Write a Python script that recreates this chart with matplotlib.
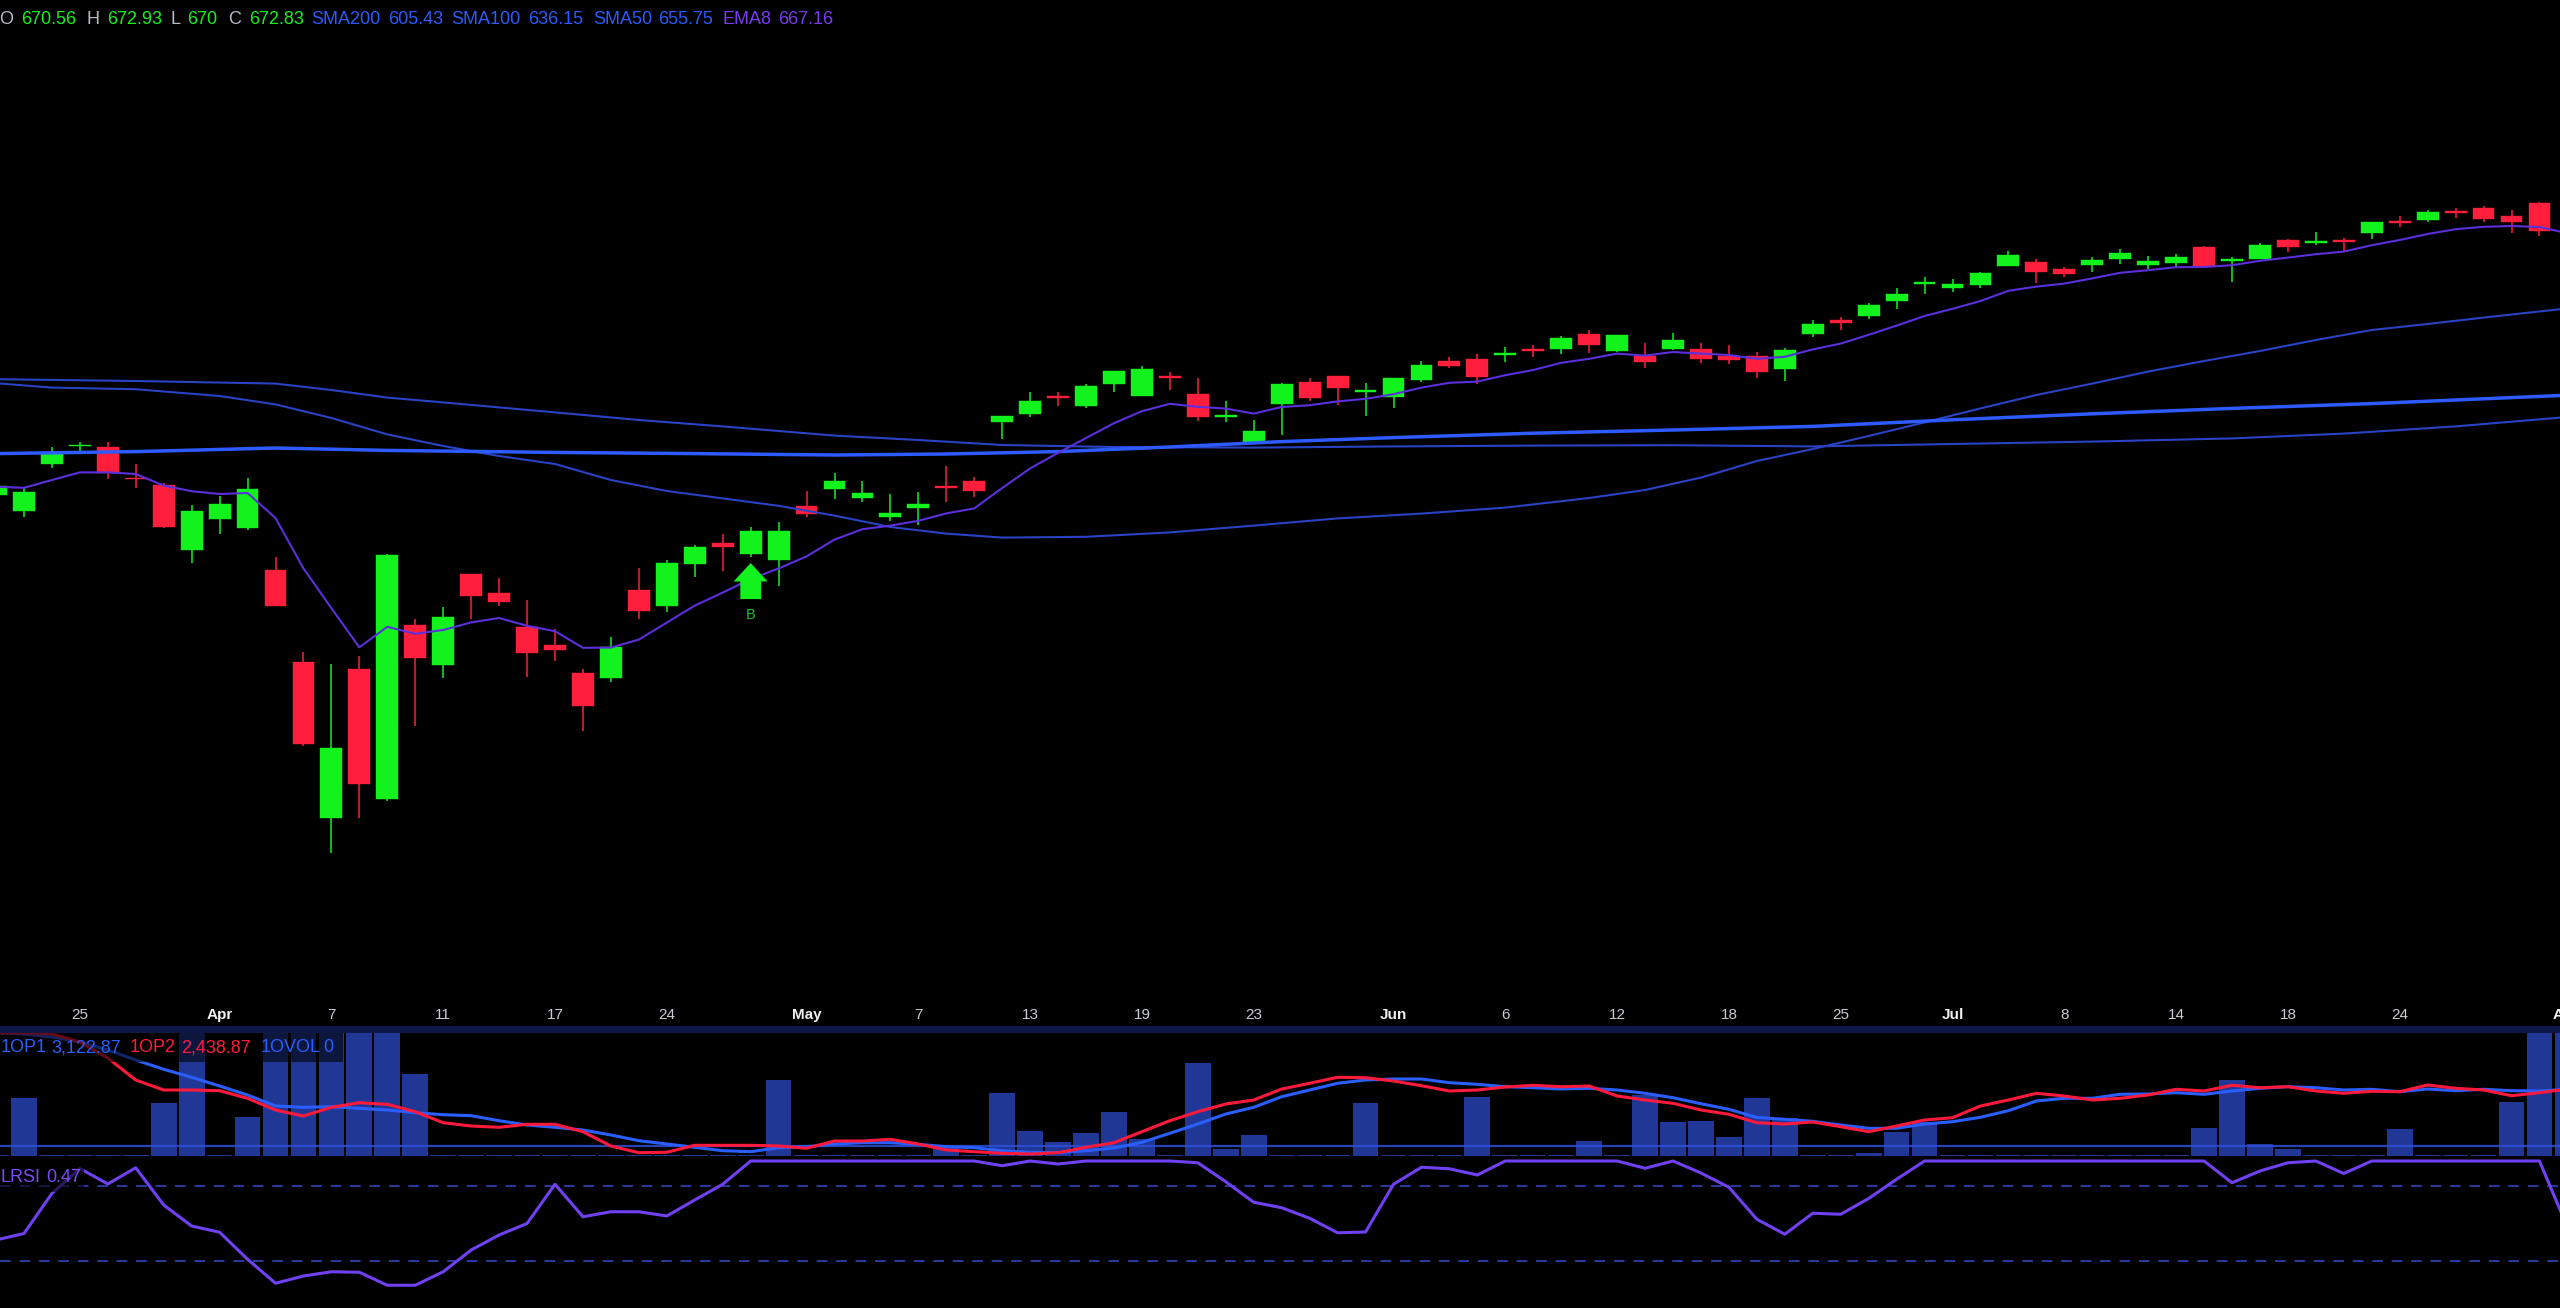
import numpy as np
import matplotlib
matplotlib.use("Agg")
import matplotlib.pyplot as plt
from matplotlib.patches import Rectangle

plt.rcParams['font.family'] = ['Liberation Sans', 'DejaVu Sans']

W, H = 2560, 1308

# ---- daily candles, Mar 20 .. Jul 31 ----
opens = [566.25, 562.25, 573.93, 578.38, 578.33, 570.5, 568.75, 552.5, 560.25, 557.93,
         547.58, 524.5, 485.43, 522.68, 490.25, 533.83, 523.75, 546.5, 541.83, 533.18,
         528.75, 521.83, 520.58, 542.58, 538.5, 549.08, 554.18, 551.43, 550.0, 563.43,
         567.68, 565.58, 560.83, 563.08, 568.5, 569.68, 584.43, 586.43, 590.83, 588.43,
         594.08, 591.0, 595.93, 591.43, 585.68, 579.18, 588.93, 594.43, 595.93, 591.93,
         590.68, 595.0, 599.68, 600.25, 601.18, 602.58, 602.75, 606.5, 602.33, 601.0,
         602.83, 602.75, 601.08, 601.08, 597.75, 606.58, 609.93, 611.08, 614.68, 618.93,
         617.93, 618.68, 623.5, 624.43, 622.68, 623.83, 625.18, 623.83, 624.18, 628.25,
         624.75, 625.25, 629.93, 629.18, 629.83, 631.83, 634.75, 635.08, 637.25, 638.0,
         636.0, 639.18]
highs = [569.5, 568.0, 578.33, 579.58, 579.5, 574.0, 569.33, 563.75, 566.0, 570.58,
         550.68, 526.93, 524.0, 526.0, 551.4, 535.25, 538.33, 546.6, 545.5, 540.0,
         532.68, 522.75, 530.68, 548.0, 549.93, 553.83, 556.43, 558.33, 559.5, 567.18,
         571.68, 569.83, 566.5, 566.93, 573.58, 570.68, 586.1, 592.08, 591.93, 593.93,
         597.18, 598.5, 596.93, 595.43, 589.75, 585.0, 594.18, 595.43, 596.0, 594.18,
         595.6, 599.83, 600.68, 601.5, 603.33, 603.83, 605.93, 607.43, 606.18, 604.33,
         606.83, 604.33, 603.75, 602.0, 603.08, 610.0, 610.83, 614.25, 618.08, 620.75,
         620.25, 622.0, 627.25, 625.18, 623.33, 625.75, 627.68, 625.93, 626.43, 628.58,
         625.83, 629.25, 630.18, 632.0, 630.5, 634.43, 636.0, 637.43, 637.93, 638.5,
         637.58, 639.5]
lows = [565.5, 560.75, 573.08, 577.08, 570.25, 567.93, 557.93, 549.18, 556.43, 557.5,
        538.4, 503.5, 476.68, 485.43, 489.75, 508.5, 520.43, 535.25, 538.58, 520.68,
        524.75, 507.33, 519.43, 535.25, 537.08, 545.83, 547.25, 550.83, 543.58, 560.68,
        565.33, 564.5, 559.75, 558.75, 564.58, 565.83, 580.18, 585.83, 588.5, 587.93,
        592.08, 590.9, 592.5, 584.68, 584.43, 579.1, 581.25, 589.83, 588.75, 586.08,
        587.93, 594.43, 598.08, 593.93, 599.43, 600.83, 601.58, 601.68, 602.08, 598.08,
        602.5, 599.18, 599.0, 595.58, 594.75, 605.68, 607.5, 610.33, 612.68, 616.58,
        617.08, 618.08, 623.4, 619.33, 620.75, 622.08, 624.0, 622.68, 622.93, 623.18,
        619.43, 625.2, 627.08, 628.83, 627.0, 630.18, 633.18, 634.58, 635.43, 634.43,
        631.83, 631.08]
closes = [568.5, 567.08, 576.83, 578.63, 571.83, 570.13, 558.33, 562.33, 564.08, 567.68,
          538.5, 504.0, 503.0, 493.93, 551.25, 525.43, 535.68, 541.08, 539.43, 526.68,
          527.5, 513.5, 528.33, 537.18, 549.18, 553.33, 553.33, 557.18, 557.33, 561.43,
          569.83, 566.68, 561.83, 564.0, 568.0, 567.33, 586.0, 589.83, 590.43, 593.43,
          597.18, 597.75, 595.5, 585.83, 586.18, 582.33, 594.0, 590.43, 592.93, 592.5,
          595.58, 598.75, 598.5, 595.83, 601.68, 602.18, 605.5, 603.83, 606.18, 599.5,
          605.08, 600.18, 600.0, 596.93, 602.58, 609.08, 609.33, 613.83, 616.58, 619.33,
          619.08, 621.68, 626.33, 621.93, 621.58, 625.08, 626.68, 624.75, 625.83, 623.43,
          625.33, 628.75, 628.18, 629.5, 629.43, 634.43, 634.33, 636.93, 636.83, 635.25,
          634.43, 632.33]

# EMA8 per bar (last value belongs to the partly hidden Aug 1 bar)
ema8 = [568.3, 568.05, 570.0, 571.9, 571.9, 571.5, 568.6, 567.2, 566.5, 566.75,
        560.5, 547.9, 537.95, 528.18, 533.3, 531.55, 532.5, 534.4, 535.5, 533.55,
        532.2, 528.05, 528.1, 530.1, 534.35, 538.6, 541.85, 545.25, 547.9, 550.9,
        555.1, 557.7, 558.6, 559.8, 561.65, 562.9, 568.0, 572.9, 576.8, 580.5,
        584.2, 587.2, 589.05, 588.3, 587.85, 586.6, 588.25, 588.7, 589.65, 590.3,
        591.45, 593.1, 594.3, 594.6, 596.2, 597.5, 599.3, 600.3, 601.6, 601.1,
        602.0, 601.6, 601.25, 600.3, 600.8, 602.65, 604.1, 606.3, 608.6, 611.0,
        612.8, 614.75, 617.3, 618.35, 619.1, 620.4, 621.8, 622.45, 623.2, 623.25,
        623.7, 624.8, 625.6, 626.45, 627.1, 628.7, 630.0, 631.5, 632.7, 633.3,
        633.5, 633.25, 631.7]

# slow moving averages, read at selected bars
sma200_idx = [0, 5, 10, 14, 20, 25, 30, 34, 38, 42, 46, 50, 55, 60, 65, 70, 75, 80, 85, 90, 92]
sma200 = [576.6, 577.1, 578.0, 577.4, 576.9, 576.6, 576.25, 576.5, 577.1, 578.25, 579.6,
          580.6, 581.7, 582.5, 583.4, 585.05, 586.55, 587.9, 589.1, 590.6, 591.2]
sma100_idx = [0, 5, 10, 12, 14, 16, 20, 23, 26, 30, 33, 36, 40, 45, 50, 55, 60, 65, 70, 75, 80, 84, 88, 92]
sma100 = [595.2, 594.75, 594.1, 592.5, 590.6, 589.4, 586.9, 585.0, 583.4, 581.1, 580.0, 578.75,
          578.25, 578.1, 578.4, 578.6, 578.7, 578.4, 579.0, 579.6, 580.4, 581.6, 583.4, 585.75]
sma50_idx = [0, 2, 5, 8, 10, 12, 14, 16, 18, 20, 22, 24, 26, 28, 30, 32, 34, 36, 39, 42, 45, 48,
             51, 54, 57, 59, 61, 63, 65, 67, 69, 71, 73, 75, 77, 79, 81, 83, 85, 87, 89, 92]
sma50 = [594.2, 593.1, 592.7, 591.0, 588.9, 585.5, 581.4, 578.5, 576.0, 574.0, 570.0, 567.25,
         565.4, 563.55, 561.1, 558.25, 556.6, 555.6, 555.8, 556.9, 558.6, 560.4, 561.6, 563.1,
         565.5, 567.5, 570.6, 574.75, 577.75, 581.0, 584.4, 587.9, 591.25, 594.1, 597.1, 599.75,
         602.25, 605.0, 607.5, 609.0, 610.6, 612.9]

buy_idx = [27]

# lower panes (93 bars incl. Aug 1)
ovol = [1.5, 58.3, 1.5, 1.5, 1.5, 1.5, 53.3, 140, 1.5, 38.7,
        140, 140, 140, 140, 140, 82.0, 1.5, 1.5, 1.5, 1.5,
        1.5, 1.5, 1.5, 1.5, 1.5, 1.5, 1.5, 1.5, 75.7, 1.5,
        1.5, 1.5, 1.5, 1.5, 9.5, 1.5, 63.3, 25.0, 14.0, 23.0,
        43.7, 16.7, 1.5, 93.0, 7.3, 20.7, 1.5, 1.5, 1.5, 52.7,
        1.5, 1.5, 1.5, 59.0, 1.5, 1.5, 1.5, 15.0, 1.5, 61.0,
        34.0, 35.3, 19.3, 57.7, 37.7, 1.5, 1.5, 3.3, 23.7, 34.3,
        1.5, 1.5, 1.5, 1.5, 1.5, 1.5, 1.5, 1.5, 1.5, 27.7,
        75.7, 11.7, 7.3, 1.5, 1.5, 1.5, 27.0, 1.5, 1.5, 1.5,
        54.0, 140, 140]
op1 = [123, 122, 119, 114, 106, 96, 86.7, 78.7, 70, 61,
       50, 48.7, 49.3, 47.7, 46, 43.3, 41.3, 40.3, 35.3, 31,
       28.7, 26, 21, 15.3, 12, 8.7, 5.3, 4.3, 8.3, 9.3,
       12, 13.3, 13.3, 11.7, 9.3, 8.3, 5.3, 3.7, 3.3, 5.3,
       8, 13.7, 22.7, 32, 42, 48.7, 59.3, 66, 72.7, 76,
       77, 77, 73.3, 71.7, 69.3, 68.3, 67, 67.7, 66, 62.7,
       58.3, 52.3, 46.7, 38.5, 36.7, 34.7, 31, 27.7, 27.7, 32,
       34.3, 38.7, 45.3, 55, 57.7, 57.7, 61.7, 62, 63.3, 61.7,
       65, 67.7, 69.3, 68.3, 66, 66.7, 64.3, 67, 65.3, 66.7,
       65.3, 65, 66.7]
op2 = [123, 123, 122, 114, 98, 76, 66, 66, 65.3, 57.7,
       46, 40, 48.7, 53.3, 51.7, 44.3, 33.3, 30, 28.7, 31.7,
       31.7, 24.3, 10, 3.3, 3.7, 10.7, 10.7, 10.7, 10, 7.7,
       15, 15, 16.7, 12, 6, 4.3, 2.7, 2, 3.3, 8.7,
       13.3, 24.3, 35.3, 44.3, 52, 56, 67, 72.7, 78.7, 78.3,
       75, 70.3, 65, 66, 69, 70.7, 69.3, 70, 60, 56,
       52.7, 46, 41.7, 33.3, 32, 34, 29.3, 24.3, 30, 36,
       38.3, 50, 56, 62.7, 60, 56, 57.7, 61, 66.7, 65,
       70.7, 68.3, 69.3, 65, 62.7, 64.7, 64.3, 71, 67.7, 66,
       60.3, 63.3, 67]
op_zero = 10
lrsi = [0.368, 0.42, 0.74, 0.94, 0.816, 0.946, 0.648, 0.48, 0.43, 0.214,
        0.022, 0.08, 0.114, 0.11, 0.006, 0.006, 0.114, 0.288, 0.408, 0.50,
        0.814, 0.554, 0.594, 0.594, 0.56, 0.688, 0.814, 1, 1, 1,
        1, 1, 1, 1, 1, 1, 0.962, 1, 0.976, 1,
        1, 1, 1, 0.986, 0.834, 0.67, 0.626, 0.542, 0.426, 0.432,
        0.814, 0.95, 0.938, 0.888, 1, 1, 1, 1, 1, 0.942,
        1, 0.904, 0.79, 0.534, 0.414, 0.582, 0.574, 0.70, 0.854, 1,
        1, 1, 1, 1, 1, 1, 1, 1, 1, 1,
        0.826, 0.92, 0.986, 1, 0.90, 1, 1, 1, 1, 1,
        1, 1, 0.47]
lrsi_levels = [0.8, 0.2]

tick_idx = [3, 8, 12, 16, 20, 24, 29, 33, 37, 41, 45, 50, 54, 58, 62, 66, 70, 74, 78, 82, 86, 92]
tick_labels = ['25', 'Apr', '7', '11', '17', '24', 'May', '7', '13', '19', '23',
               'Jun', '6', '12', '18', '25', 'Jul', '8', '14', '18', '24', 'Aug']

header = [('O', '670.56'), ('H', '672.93'), ('L', '670'), ('C', '672.83'),
          ('SMA200', '605.43'), ('SMA100', '636.15'), ('SMA50', '655.75'), ('EMA8', '667.16')]
legend_op = [('1OP1', '3,122.87'), ('1OP2', '2,438.87'), ('1OVOL', '0')]
lrsi_label = ('LRSI', '0.47')

# ---- style ----
GREEN = '#12f21d'
RED = '#ff1f3d'
BLUE = '#2d5bff'
BLUE_THIN = '#2a42c4'
PURPLE = '#5b30dc'
LRSI_COL = '#7040f2'
VOL_COL = '#213796'
GREY = '#b8bcc6'

fig = plt.figure(figsize=(W / 100, H / 100), dpi=100, facecolor='black')


def pane(top, bottom):
    a = fig.add_axes([0, 1 - bottom / H, 1, (bottom - top) / H])
    a.set_facecolor('black')
    a.set_axis_off()
    a.set_xlim((0 + 4) / 27.95, (W + 4) / 27.95)
    return a


ax = pane(0, 1026)
axv = pane(1033, 1157)
axr = pane(1157, H)

ax.set_ylim(690 - 1026 / 4, 690)
axv.set_ylim(-1, 123)
axr.set_ylim(-0.176, 1.032)

fig.add_artist(Rectangle((0, 1 - 1033 / H), 1, 7 / H, transform=fig.transFigure,
                         facecolor='#0e1846', edgecolor='none'))

# candles
x = np.arange(len(closes))
o, hi, lo, c = map(np.array, (opens, highs, lows, closes))
cols = np.where(c >= o, GREEN, RED)
ax.vlines(x, lo, hi, colors=cols, lw=1.1, zorder=3)
ax.bar(x, np.maximum(np.abs(c - o), 0.45), bottom=np.minimum(o, c), width=0.78,
       color=cols, edgecolor=cols, lw=0.3, zorder=4)

# moving averages
ax.plot(sma100_idx, sma100, color=BLUE_THIN, lw=1.5, zorder=5)
ax.plot(sma50_idx, sma50, color=BLUE_THIN, lw=1.5, zorder=5)
ax.plot(sma200_idx, sma200, color=BLUE, lw=2.5, zorder=5)
ax.plot(np.arange(len(ema8)), ema8, color=PURPLE, lw=1.5, zorder=6)

# buy marker
for b in buy_idx:
    tip = lows[b] - 1.6
    ax.fill([b - 0.61, b, b + 0.61, b + 0.37, b + 0.37, b - 0.37, b - 0.37],
            [tip - 4.6, tip, tip - 4.6, tip - 4.6, tip - 9.0, tip - 9.0, tip - 4.6],
            color=GREEN, lw=0, zorder=7)
    ax.text(b, tip - 13, 'B', color='#14c81c', fontsize=10.5, ha='center', va='center')

# date axis labels
for i, lab in zip(tick_idx, tick_labels):
    month = not lab.isdigit()
    ax.text(i, (1026 - 1015) / 1026, lab, transform=ax.get_xaxis_transform(),
            ha='center', va='center', fontsize=11,
            color='#f0f0f0' if month else '#c9ccd4', fontweight='bold' if month else 'normal')

# oscillator / volume pane
xv = np.arange(len(ovol))
axv.bar(xv, ovol, width=0.92, color=VOL_COL, lw=0, zorder=1)
axv.axhline(op_zero, color='#3050d8', lw=1.6, alpha=0.85, zorder=2)
axv.plot(xv, op1, color='#2a5eff', lw=2.2, zorder=3)
axv.plot(xv, op2, color='#ff1a3c', lw=2.2, zorder=4)

# LRSI pane
for lev in lrsi_levels:
    axr.axhline(lev, color='#2b3aa0', lw=1.4, ls=(0, (5.5, 4.5)), zorder=1)
axr.plot(np.arange(len(lrsi)), lrsi, color=LRSI_COL, lw=2.2, zorder=2)

# header line
hx = [-1, 21, 86, 107, 170, 187, 228, 249, 311, 388, 451, 528, 593, 658, 723, 778]
hcols = [(GREY, GREEN)] * 4 + [(BLUE, BLUE)] * 3 + [('#7a3cf0', '#7a3cf0')]
k = 0
for (name, val), (c1, c2) in zip(header, hcols):
    fig.text(hx[k] / W, 1 - 19 / H, name, color=c1, fontsize=13, va='center', ha='left')
    fig.text(hx[k + 1] / W, 1 - 19 / H, val, color=c2, fontsize=13, va='center', ha='left')
    k += 2

# pane legends with dark boxes
fig.add_artist(Rectangle((0, 1 - 1062 / H), 343 / W, 29 / H, transform=fig.transFigure,
                         facecolor='black', alpha=0.6, edgecolor='none', zorder=10))
lx = [1, 51, 130, 181, 261, 323]
lcols = ['#2a5eff', '#ff1a3c', '#2a5eff']
k = 0
for (name, val), cc in zip(legend_op, lcols):
    fig.text(lx[k] / W, 1 - 1048 / H, name, color=cc, fontsize=13, va='center', zorder=11)
    fig.text(lx[k + 1] / W, 1 - 1048 / H, val, color=cc, fontsize=13, va='center', zorder=11)
    k += 2

fig.add_artist(Rectangle((0, 1 - 1192 / H), 84 / W, 27 / H, transform=fig.transFigure,
                         facecolor='black', alpha=0.6, edgecolor='none', zorder=10))
fig.text(1 / W, 1 - 1178 / H, lrsi_label[0], color='#7b4cf5', fontsize=13, va='center', zorder=11)
fig.text(46 / W, 1 - 1178 / H, lrsi_label[1], color='#7b4cf5', fontsize=13, va='center', zorder=11)

fig.savefig('out.png', dpi=100, facecolor='black')
